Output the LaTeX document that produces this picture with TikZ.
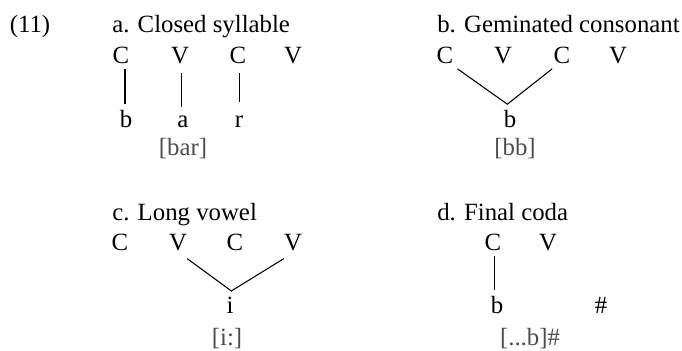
\documentclass[tikz,border=0pt]{standalone}
\usepackage{fontspec}
\setmainfont{Liberation Serif}
\definecolor{phongray}{HTML}{4D4D4D}

\begin{document}
\begin{tikzpicture}[
  x=0.75pt, y=-0.75pt,
  font=\fontsize{18.6}{22}\selectfont,
  title/.style={anchor=base west, inner sep=0pt},
  skel/.style={anchor=base, inner sep=4pt},
  melody/.style={anchor=base, inner sep=4pt},
  phon/.style={anchor=base, inner sep=0pt, text=phongray},
  link/.style={draw=black, line width=0.8pt}
]
\useasboundingbox (0,0) rectangle (682,350);

\node[anchor=base, inner sep=0pt] (exnum) at (30,32) {(11)};

% a. Closed syllable
\node[title] (titleA) at (112,32) {a. Closed syllable};
\node[skel] (aC1) at (121,63) {C};
\node[skel] (aV1) at (180,63) {V};
\node[skel] (aC2) at (238,63) {C};
\node[skel] (aV2) at (293,63) {V};
\node[melody] (ab) at (126,127) {b};
\node[melody] (aa) at (183,127) {a};
\node[melody] (ar) at (239,127) {r};
\node[phon] (aphon) at (183,155) {[bar]};
\draw[link] ([xshift=3pt]aC1.south) -- ([xshift=3pt]aC1.south |- ab.north);
\draw[link] ([shift={(1pt,-3pt)}]aV1.south) -- ([shift={(1pt,2pt)}]aV1.south |- aa.north);
\draw[link] ([shift={(1pt,-3pt)}]aC2.south) -- ([shift={(1pt,5.5pt)}]aC2.south |- ar.north);

% b. Geminated consonant
\node[title] (titleB) at (437,32) {b. Geminated consonant};
\node[skel] (bC1) at (445,63) {C};
\node[skel] (bV1) at (503,63) {V};
\node[skel] (bC2) at (562,63) {C};
\node[skel] (bV2) at (618,63) {V};
\node[melody] (bb) at (510,127) {b};
\node[phon] (bphon) at (515,155) {[bb]};
\draw[link] ([xshift=-1pt]bC1.south east) -- ([xshift=-2pt]bb.north) -- ([xshift=3pt]bC2.south west);

% c. Long vowel
\node[title] (titleC) at (112,220) {c. Long vowel};
\node[skel] (cC1) at (120,250) {C};
\node[skel] (cV1) at (178,250) {V};
\node[skel] (cC2) at (235,250) {C};
\node[skel] (cV2) at (293,250) {V};
\node[melody] (ci) at (230,313) {i};
\node[phon] (cphon) at (227,345) {[i:]};
\draw[link] ([shift={(-4pt,-2pt)}]cV1.south east) -- ([xshift=1pt]ci.north) -- ([shift={(4pt,-2pt)}]cV2.south west);

% d. Final coda
\node[title] (titleD) at (437,220) {d. Final coda};
\node[skel] (dC) at (493,250) {C};
\node[skel] (dV) at (548,250) {V};
\node[melody] (db) at (497,313) {b};
\node[melody] (dhash) at (601,313) {\#};
\node[phon] (dphon) at (530,345) {[...b]\#};
\draw[link] ([xshift=1pt]dC.south) -- ([xshift=1pt]dC.south |- db.north);

\end{tikzpicture}
\end{document}
